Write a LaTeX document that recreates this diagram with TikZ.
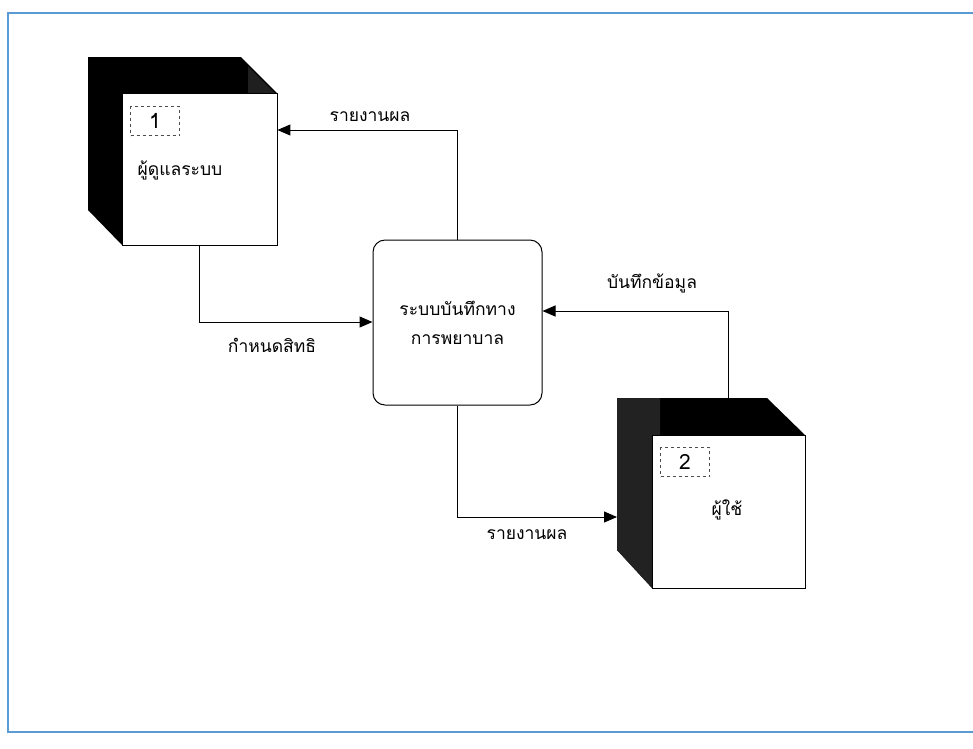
\documentclass[tikz,border=0pt]{standalone}
\usepackage{fontspec}
\setmainfont[Script=Thai]{Loma}
\usetikzlibrary{arrows.meta}
\definecolor{frameblue}{HTML}{5B9BD5}
\definecolor{sidegray}{HTML}{222222}
\tikzset{
  lbl/.style={inner sep=0pt, font=\fontsize{17.5}{20}\selectfont},
  flow/.style={draw=black, line width=1pt, -{Triangle[length=13pt,width=11pt]}},
  front/.style={draw=black, fill=white, line width=0.8pt, inner sep=0pt},
  idbox/.style={draw=black!70, dashed, dash pattern=on 3pt off 3pt, line width=0.7pt, minimum width=49pt, minimum height=29pt, inner sep=0pt, font=\fontsize{21}{22}\selectfont},
  proc/.style={draw=black, line width=1pt, rounded corners=12pt, fill=none}
}
\begin{document}
\begin{tikzpicture}[x=1pt,y=-1pt]
\useasboundingbox (0,0) rectangle (973,748);
% frame
\draw[frameblue, line width=2pt] (980,13) -- (8,13) -- (8,732) -- (980,732);
% entity 1
\fill[black] (88,57) -- (241,57) -- (277,93) -- (277,245) -- (122,245) -- (88,210) -- cycle;
\fill[black!88] (248,66) -- (275,93) -- (248,93) -- cycle;
\node[front, minimum width=155pt, minimum height=152pt] (e1) at (199.5,169) {};
\node[idbox] (id1) at (155,121) {1};
\node[lbl] (t1) at (180,170) {ผู้ดูแลระบบ};
% entity 2
\fill[black] (617,398) -- (767,398) -- (805,435) -- (805,588) -- (652,588) -- (617,550) -- cycle;
\fill[sidegray] (617,398) -- (660,398) -- (660,588) -- (652,588) -- (617,550) -- cycle;
\node[front, minimum width=153pt, minimum height=153pt] (e2) at (728.5,511.5) {};
\node[idbox] (id2) at (685,462) {2};
\node[lbl] (t2) at (727,510) {ผู้ใช้};
% process
\node[proc, minimum width=169pt, minimum height=165pt, inner sep=0pt, align=center, font=\fontsize{17.5}{29}\selectfont] (p) at (457.5,322.5) {ระบบบันทึกทาง\\การพยาบาล};
% connectors
\coordinate (c1) at (457,130);
\coordinate (c2) at (199,322);
\coordinate (c3) at (457,517);
\coordinate (c4) at (728,311);
\draw[flow] (p.north -| c1) -- (c1) -- (c1 -| e1.east);
\draw[flow] (e1.south -| c2) -- (c2) -- (c2 -| p.west);
\draw[flow] (p.south -| c3) -- (c3) -- (617,517);
\draw[flow] (617,398 -| c4) -- (c4) -- (c4 -| p.east);
% labels
\node[lbl] (l1) at (370,117) {รายงานผล};
\node[lbl] (l2) at (272,345) {กำหนดสิทธิ};
\node[lbl] (l3) at (527,535) {รายงานผล};
\node[lbl] (l4) at (652,283) {บันทึกข้อมูล};
\end{tikzpicture}
\end{document}
